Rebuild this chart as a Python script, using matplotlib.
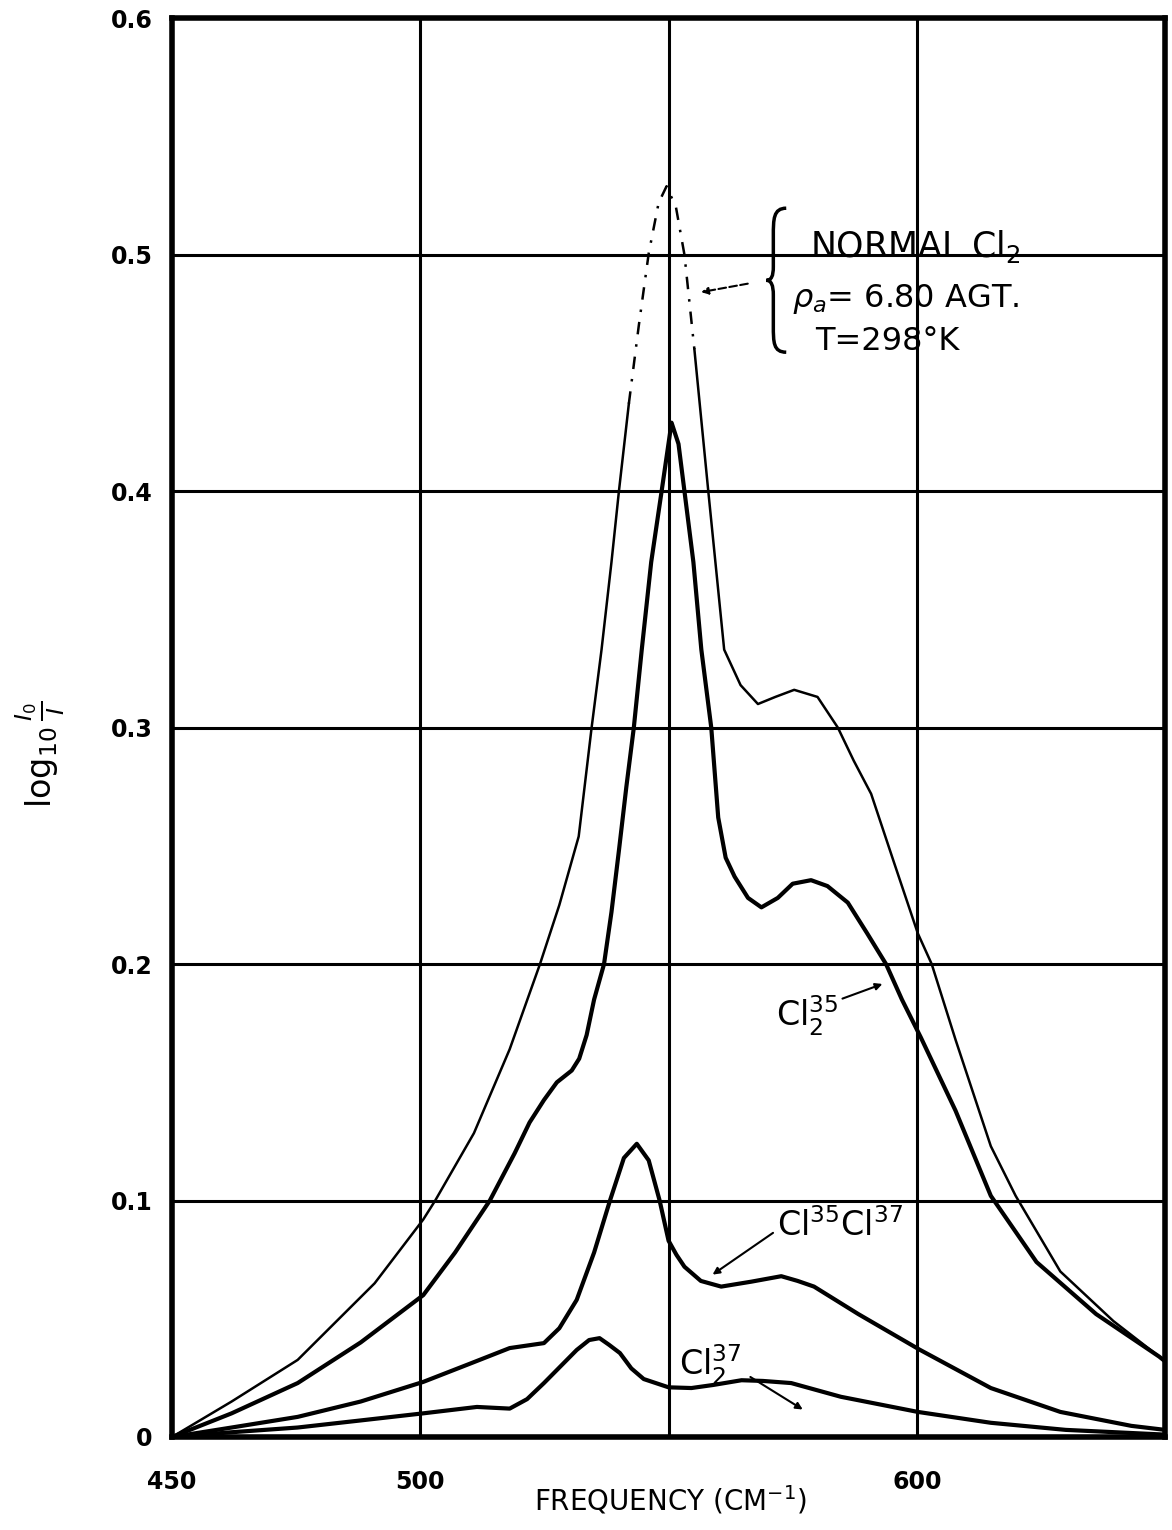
import matplotlib
matplotlib.use("Agg")
import matplotlib.pyplot as plt
from matplotlib.path import Path
from matplotlib.patches import PathPatch
import numpy as np

# ---- data ----
normal_x = [450, 462, 475.3, 490.8, 500.6, 503, 510.8, 518, 524.1, 528, 531.9, 534.5, 536.5,
            538.5, 540, 542, 544, 546, 548, 549.6, 551.5, 553.2, 555.2, 558, 561.2, 564.5,
            568, 571.5, 575.3, 580, 584.1, 587.3, 590.8, 595.4, 600.2, 603, 607.8, 614.9, 619.9,
            628.9, 639.6, 648.8, 650]
normal_y = [0.0, 0.015, 0.0326, 0.065, 0.092, 0.100, 0.1285, 0.164, 0.200, 0.225, 0.254, 0.300, 0.333,
            0.370, 0.400, 0.437, 0.470, 0.5006, 0.522, 0.529, 0.520, 0.500, 0.460, 0.400, 0.333, 0.318,
            0.310, 0.313, 0.316, 0.313, 0.300, 0.286, 0.272, 0.243, 0.213, 0.200, 0.168, 0.123, 0.102,
            0.070, 0.049, 0.034, 0.032]

cl35_x = [450, 462, 475.3, 488, 500.6, 507, 514, 519, 522, 524.9, 527.5, 530.5, 532, 533.5,
          535, 537, 538.5, 540, 541.5, 543, 544.6, 546.5, 548.6, 550.6, 552, 553.2, 555, 556.6,
          558.6, 560, 561.5, 563.3, 566, 568.7, 572, 575, 578.7, 582, 586.1, 590, 593.8, 597,
          600.8, 607.8, 614.9, 624.1, 636.1, 648.8, 650]
cl35_y = [0.0, 0.010, 0.0228, 0.040, 0.060, 0.078, 0.100, 0.120, 0.133, 0.1425, 0.150, 0.155, 0.160, 0.170,
          0.185, 0.200, 0.222, 0.248, 0.275, 0.300, 0.333, 0.370, 0.400, 0.429, 0.420, 0.400, 0.370, 0.333,
          0.300, 0.262, 0.245, 0.237, 0.228, 0.224, 0.228, 0.234, 0.2355, 0.233, 0.226, 0.213, 0.200, 0.185,
          0.169, 0.138, 0.102, 0.074, 0.052, 0.034, 0.032]

mixed_x = [450, 462, 475.3, 488, 500.6, 510, 518, 524.9, 528, 531.5, 535, 538.2, 541, 543.6,
           546, 548.2, 550, 551.6, 553.2, 556.5, 560.6, 566.7, 572.7, 576, 579.3, 588.2, 600.5,
           614.9, 628.9, 643.2, 650]
mixed_y = [0.0, 0.004, 0.0085, 0.015, 0.0233, 0.031, 0.0376, 0.0397, 0.046, 0.058, 0.078, 0.100, 0.118, 0.124,
           0.117, 0.100, 0.083, 0.077, 0.072, 0.066, 0.0636, 0.0657, 0.068, 0.066, 0.0636, 0.052, 0.037,
           0.0207, 0.0106, 0.0047, 0.003]

cl37_x = [450, 462, 475.3, 488, 500.6, 511.4, 518, 521.5, 524.9, 531.5, 534, 536.1, 538, 540.2,
          542.5, 545, 550, 554.6, 559, 564.7, 569, 574.7, 584.7, 600.2, 614.9, 630, 650]
cl37_y = [0.0, 0.002, 0.004, 0.007, 0.010, 0.0127, 0.012, 0.016, 0.0228, 0.0368, 0.041, 0.0418, 0.039, 0.0355,
          0.029, 0.0245, 0.021, 0.0207, 0.022, 0.024, 0.0237, 0.0228, 0.017, 0.0106, 0.006, 0.003, 0.001]

x_ticks = [450, 500, 550, 600]
x_tick_labels = ["450", "500", "", "600"]
y_ticks = [0, 0.1, 0.2, 0.3, 0.4, 0.5, 0.6]
y_tick_labels = ["0", "0.1", "0.2", "0.3", "0.4", "0.5", "0.6"]

# ---- figure ----
fig = plt.figure(figsize=(11.72, 15.30), dpi=100)
ax = fig.add_axes([0.1468, 0.0608, 0.8473, 0.9272])
ax.set_xlim(450, 650)
ax.set_ylim(0, 0.6)

ax.set_xticks(x_ticks)
ax.set_xticklabels(x_tick_labels, fontsize=17, fontweight="bold")
ax.set_yticks(y_ticks)
ax.set_yticklabels(y_tick_labels, fontsize=17, fontweight="bold")
ax.tick_params(axis="both", length=0)
ax.tick_params(axis="x", pad=24)
ax.tick_params(axis="y", pad=14)
ax.grid(True, color="black", linewidth=2.2)
ax.set_axisbelow(True)
for s in ax.spines.values():
    s.set_linewidth(4)
    s.set_color("black")

# curves
nx = np.array(normal_x); ny = np.array(normal_y)
m1 = nx <= 542
m2 = (nx >= 542) & (nx <= 555.2)
m3 = nx >= 555.2
ax.plot(nx[m1], ny[m1], color="black", lw=1.8)
ax.plot(nx[m2], ny[m2], color="black", lw=1.8, ls=(0, (5, 4, 1, 4)))
ax.plot(nx[m3], ny[m3], color="black", lw=1.8)
ax.plot(cl35_x, cl35_y, color="black", lw=3)
ax.plot(mixed_x, mixed_y, color="black", lw=3)
ax.plot(cl37_x, cl37_y, color="black", lw=3)

# brace
bx_tip, bx_sp, bx_mid = 573.7, 571.1, 569.7
by_top, by_mid, by_bot = 0.5197, 0.4892, 0.4588
verts = [(bx_tip, by_top), (bx_sp, by_top), (bx_sp, 0.515), (bx_sp, 0.508),
         (bx_sp, 0.495),
         (bx_sp, 0.491), (bx_sp - 0.4, by_mid), (bx_mid, by_mid),
         (bx_sp - 0.4, by_mid), (bx_sp, 0.487), (bx_sp, 0.483),
         (bx_sp, 0.470),
         (bx_sp, 0.463), (bx_sp, by_bot), (bx_tip, by_bot)]
codes = [Path.MOVETO, Path.CURVE4, Path.CURVE4, Path.CURVE4,
         Path.LINETO,
         Path.CURVE4, Path.CURVE4, Path.CURVE4,
         Path.CURVE4, Path.CURVE4, Path.CURVE4,
         Path.LINETO,
         Path.CURVE4, Path.CURVE4, Path.CURVE4]
ax.add_patch(PathPatch(Path(verts, codes), fill=False, lw=2.5, color="black"))

# annotations
ax.text(578.5, 0.5036, "NORMAL Cl$_2$", fontsize=25, ha="left", va="center")
ax.text(574.8, 0.4815, r"$\rho_a$= 6.80 AGT.", fontsize=23, ha="left", va="center")
ax.text(579.5, 0.4632, "T=298°K", fontsize=23, ha="left", va="center")
ax.annotate("", xy=(556.0, 0.484), xytext=(566.5, 0.488),
            arrowprops=dict(arrowstyle="-|>", color="black", lw=1.5, ls="--"))

ax.text(578.0, 0.178, "Cl$_2^{35}$", fontsize=24, ha="center", va="center")
ax.annotate("", xy=(593.6, 0.192), xytext=(584.5, 0.185),
            arrowprops=dict(arrowstyle="-|>", color="black", lw=1.5))
ax.text(584.5, 0.0896, "Cl$^{35}$Cl$^{37}$", fontsize=24, ha="center", va="center")
ax.annotate("", xy=(558.4, 0.068), xytext=(571.5, 0.087),
            arrowprops=dict(arrowstyle="-|>", color="black", lw=1.5))
ax.text(558.5, 0.0304, "Cl$_2^{37}$", fontsize=24, ha="center", va="center")
ax.annotate("", xy=(577.5, 0.011), xytext=(566.0, 0.026),
            arrowprops=dict(arrowstyle="-|>", color="black", lw=1.5))

# axis labels
fig.text(0.572, 0.0196, "FREQUENCY (CM$^{-1}$)", fontsize=20, ha="center", va="center")
fig.text(0.034, 0.507, r"$\log_{10}\frac{I_0}{I}$", fontsize=24, rotation=90,
         ha="center", va="center", fontweight="bold")

fig.savefig("out.png", dpi=100, facecolor="white")
